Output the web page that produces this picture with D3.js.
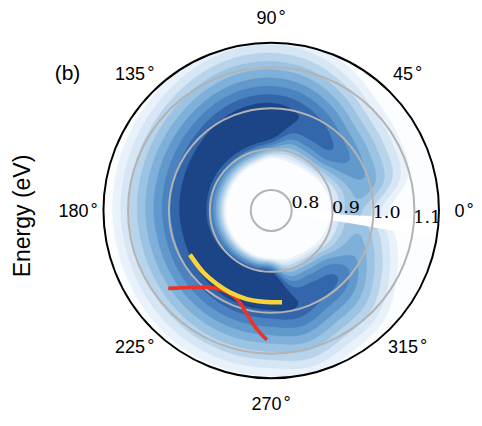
<!DOCTYPE html>
<html><head><meta charset="utf-8">
<script src="https://cdn.jsdelivr.net/npm/d3@7"></script>
<style>body{margin:0;background:#fff} svg{display:block}</style>
</head><body>
<svg id="chart" width="482" height="426"></svg>
<script>
// ---------------- data ----------------
// spectral band profile, sampled every 15 degrees of angle
const profileAngles    = [0,15,30,45,60,75,90,105,120,135,150,165,180,195,210,225,240,255,270,285,300,315,330,345];
const profileAmplitude = [0.45,0.57,0.68,0.80,0.86,0.91,1.08,1.10,1.08,1.05,1.03,1.02,1.02,1.02,1.04,1.07,1.10,1.12,1.13,0.91,0.85,0.80,0.61,0.50];
const profileCenter    = [0.950,0.985,0.975,0.962,0.975,0.986,0.960,0.954,0.949,0.944,0.940,0.937,0.935,0.934,0.933,0.932,0.931,0.930,0.930,0.983,0.978,0.977,0.982,0.970];
const profileInnerEdge = [0.890,0.885,0.880,0.875,0.870,0.870,0.875,0.868,0.864,0.861,0.859,0.858,0.858,0.858,0.858,0.860,0.862,0.864,0.865,0.868,0.870,0.875,0.880,0.885];
const slopeOuter = 5.0, peakRounding = 0.02;   // intensity drop per eV above the band
const dataAngleRange   = [-3, 350.5];   // the data leave a small empty wedge near 0°
const dataEnergyRange  = [0.75, 1.17];

const contourLevels = [0,0.1,0.2,0.3,0.4,0.5,0.6,0.7,0.8,0.9];
const levelColors   = ["#fbfdff","#e9f2fa","#d6e6f4","#b8d4eb","#9cc3e2","#7fb0d9","#6299cc","#4a83c0","#3366aa","#1c4587"];

const radialTicks      = [0.8,0.9,1.0,1.1];
const radialTickLabels = ["0.8","0.9","1.0","1.1"];
const angleTicks       = [0,45,90,135,180,225,270,315];
const angleTickLabels  = ["0","45","90","135","180","225","270","315"];
const energyDomain     = [0.75,1.16];

const yellowAngle  = [208.5,222.3,233.5,243.4,254.6,265.2,276.7];
const yellowEnergy = [0.976,0.9745,0.9735,0.974,0.9745,0.9738,0.976];
const redAngle     = [217.1,224.6,231.5,239.2,248.8,256.8,263.1,268.1];
const redEnergy    = [1.0657,1.0176,0.990,0.978,0.982,1.010,1.042,1.0664];

// ---------------- layout ----------------
const cx = 271.2, cy = 210.5, Rmax = 167.75;
const svg = d3.select("#chart");
const R = d3.scaleLinear().domain(energyDomain).range([0, Rmax]);
const rad = d => d * Math.PI / 180;
const px = (th, e) => [cx + R(e) * Math.cos(rad(th)), cy - R(e) * Math.sin(rad(th))];

// periodic cubic interpolation of the 15°-sampled profile arrays
function periodic(vals, th) {
  const step = profileAngles[1] - profileAngles[0], n = vals.length;
  const t = ((th % 360) + 360) % 360;
  const i = Math.floor(t / step), f = t / step - i;
  const p0 = vals[(i - 1 + n) % n], p1 = vals[i % n], p2 = vals[(i + 1) % n], p3 = vals[(i + 2) % n];
  return 0.5 * (2 * p1 + (-p0 + p2) * f + (2 * p0 - 5 * p1 + 4 * p2 - p3) * f * f + (-p0 + 3 * p1 - 3 * p2 + p3) * f * f * f);
}

// grid in (angle, energy)
const nT = 177, nE = 84;
const thScale = d3.scaleLinear().domain([0, nT]).range(dataAngleRange);
const eScale  = d3.scaleLinear().domain([0, nE]).range(dataEnergyRange);
const values = new Float64Array(nT * nE);
for (let j = 0; j < nE; j++) {
  const e = eScale(j + 0.5);
  for (let i = 0; i < nT; i++) {
    const th = thScale(i + 0.5);
    const A = periodic(profileAmplitude, th), c = periodic(profileCenter, th), e0 = periodic(profileInnerEdge, th);
    let v;
    if (e >= c) {
      const d = e - c;
      v = A - slopeOuter * (Math.sqrt(d * d + peakRounding * peakRounding) - peakRounding);
    } else {
      const x = Math.max(0, (e - e0) / (c - e0));
      v = A * (1 - (1 - x) * (1 - x));
    }
    values[j * nT + i] = Math.max(0, v);
  }
}
const contours = d3.contours().size([nT, nE]).thresholds(contourLevels)(values);

function ringPath(ring) {
  return ring.map((p, k) => {
    const [x, y] = px(thScale(p[0]), eScale(p[1]));
    return (k ? "L" : "M") + x.toFixed(2) + "," + y.toFixed(2);
  }).join("") + "Z";
}

const defs = svg.append("defs");
defs.append("clipPath").attr("id", "polarClip")
  .append("circle").attr("cx", cx).attr("cy", cy).attr("r", Rmax);

const plot = svg.append("g").attr("clip-path", "url(#polarClip)");
plot.selectAll("path.level").data(contours).join("path")
  .attr("class", "level")
  .attr("d", c => c.coordinates.map(poly => poly.map(ringPath).join("")).join(""))
  .attr("fill", (c, i) => levelColors[i])
  .attr("stroke", (c, i) => levelColors[i])
  .attr("stroke-width", 0.4);

// grid circles
plot.selectAll("circle.grid").data(radialTicks).join("circle")
  .attr("class", "grid").attr("cx", cx).attr("cy", cy).attr("r", d => R(d))
  .attr("fill", "none").attr("stroke", "#b3b3b3").attr("stroke-width", 2);

// lines
const line = d3.line().curve(d3.curveCatmullRom);
plot.append("path")
  .attr("d", line(redAngle.map((a, i) => px(a, redEnergy[i]))))
  .attr("fill", "none").attr("stroke", "#e8342a").attr("stroke-width", 3.6);
plot.append("path")
  .attr("d", line(yellowAngle.map((a, i) => px(a, yellowEnergy[i]))))
  .attr("fill", "none").attr("stroke", "#f8d43a").attr("stroke-width", 4.5);

// radial tick labels
const labelAngle = -7;
svg.selectAll("text.rlab").data(radialTicks).join("text")
  .attr("class", "rlab")
  .attr("x", d => px(labelAngle, d)[0])
  .attr("y", d => px(labelAngle, d)[1] - 4.7)
  .attr("font-family", "DejaVu Serif, serif").attr("font-size", 17.5)
  .attr("fill", "#000")
  .text((d, i) => radialTickLabels[i]);

// outer spine
svg.append("circle").attr("cx", cx).attr("cy", cy).attr("r", Rmax)
  .attr("fill", "none").attr("stroke", "#000").attr("stroke-width", 2);

// angle labels
const tl = svg.selectAll("text.tlab").data(angleTicks).join("text")
  .attr("class", "tlab")
  .attr("x", d => cx + 193 * Math.cos(rad(d)))
  .attr("y", d => cy - 193 * Math.sin(rad(d)))
  .attr("text-anchor", "middle").attr("dominant-baseline", "central")
  .attr("font-family", "Liberation Sans, Arial, sans-serif").attr("font-size", 18)
  .attr("fill", "#000");
tl.append("tspan").text((d, i) => angleTickLabels[i]);
tl.append("tspan").attr("dx", 2).attr("dy", -1).text("°");

svg.append("text").attr("x", 67.5).attr("y", 72)
  .attr("text-anchor", "middle").attr("dominant-baseline", "central")
  .attr("font-family", "Liberation Sans, Arial, sans-serif").attr("font-size", 21)
  .text("(b)");

svg.append("text")
  .attr("transform", "translate(22,216) rotate(-90)")
  .attr("text-anchor", "middle").attr("dominant-baseline", "central")
  .attr("font-family", "Liberation Sans, Arial, sans-serif").attr("font-size", 23)
  .text("Energy (eV)");
</script>
</body></html>
